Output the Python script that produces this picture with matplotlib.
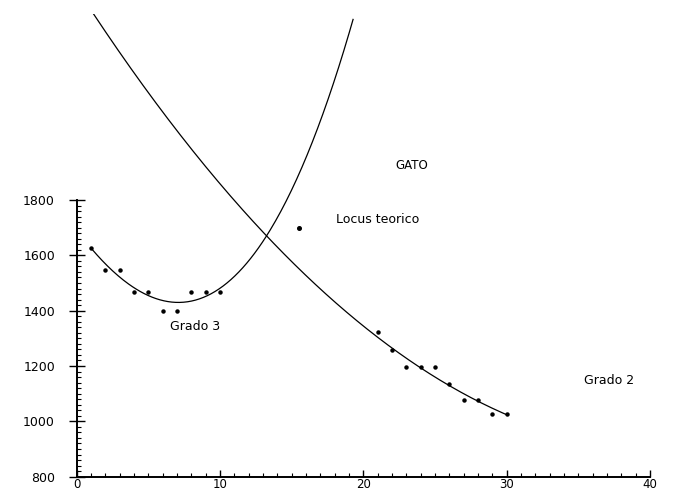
import numpy as np
import matplotlib
matplotlib.use('Agg')
import matplotlib.pyplot as plt
from matplotlib.ticker import FixedLocator


# measured points (left group and right group)
x_left = [1, 2, 3, 4, 5, 6, 7, 8, 9, 10]
y_left = [1625, 1547, 1547, 1469, 1469, 1397, 1397, 1469, 1469, 1469]

x_right = [21, 22, 23, 24, 25, 26, 27, 28, 29, 30]
y_right = [1324, 1258, 1195, 1195, 1195, 1134, 1077, 1077, 1025, 1025]

# the single "locus teorico" point
x_locus = [15.5]
y_locus = [1700]

# points
grado3_x = [1.06, 6.86, 10.0, 12.3, 13.25, 14.88, 16.04, 17.2, 18.36, 19.29]
grado3_y = [1625, 1424, 1471, 1619, 1680, 1824, 1945, 2101, 2282, 2469]

grado2_x = [1.17, 6.05, 9.53, 12.79, 17.67, 25.8, 29.98]
grado2_y = [2472, 2113, 1896, 1698, 1439, 1137, 1025]

y_ticks = [800, 1000, 1200, 1400, 1600, 1800]
x_ticks = [0, 10, 20, 30, 40]


if __name__ == '__main__':
    fig = plt.figure(figsize=(6.73, 4.93), dpi=100)
    ax = fig.add_axes([76.5/673, 16.3/493, 573.5/673, 462.7/493])

    # fitted polynomials (degree as labelled on the chart)
    p3 = np.polyfit(grado3_x, grado3_y, 3)
    xs3 = np.linspace(min(grado3_x), max(grado3_x), 200)
    ax.plot(xs3, np.polyval(p3, xs3), color='black', lw=0.9)

    p2 = np.polyfit(grado2_x, grado2_y, 2)
    xs2 = np.linspace(min(grado2_x), max(grado2_x), 200)
    ax.plot(xs2, np.polyval(p2, xs2), color='black', lw=0.9)

    ax.plot(x_left, y_left, 'o', color='black', ms=2.2)
    ax.plot(x_right, y_right, 'o', color='black', ms=2.2)
    ax.plot(x_locus, y_locus, 'o', color='black', ms=2.6)

    ax.set_xlim(0, 40)
    ax.set_ylim(800, 2472)

    for s in ['top', 'right']:
        ax.spines[s].set_visible(False)
    ax.spines['left'].set_bounds(800, 1800)
    ax.spines['left'].set_linewidth(1.4)
    ax.spines['bottom'].set_linewidth(1.4)

    ax.yaxis.set_major_locator(FixedLocator(y_ticks))
    ax.yaxis.set_minor_locator(FixedLocator(np.arange(800, 1801, 20)))
    ax.xaxis.set_major_locator(FixedLocator(x_ticks))
    ax.xaxis.set_minor_locator(FixedLocator(np.arange(0, 41, 1)))

    ax.tick_params(axis='y', which='major', direction='inout', length=11,
                   width=1.0, pad=10, labelsize=9)
    ax.tick_params(axis='x', which='major', direction='in', length=5,
                   width=1.0, pad=1, labelsize=8.5)
    ax.tick_params(which='minor', direction='in', length=3, width=0.8)

    ax.text(23.36, 1923, 'GATO', ha='center', va='center', fontsize=8.5)
    ax.text(18.13, 1728, 'Locus teorico', ha='left', va='center', fontsize=9)
    ax.text(6.52, 1342, 'Grado 3', ha='left', va='center', fontsize=9)
    ax.text(35.43, 1146, 'Grado 2', ha='left', va='center', fontsize=9,
            clip_on=False)

    fig.savefig('out.png', dpi=100)
